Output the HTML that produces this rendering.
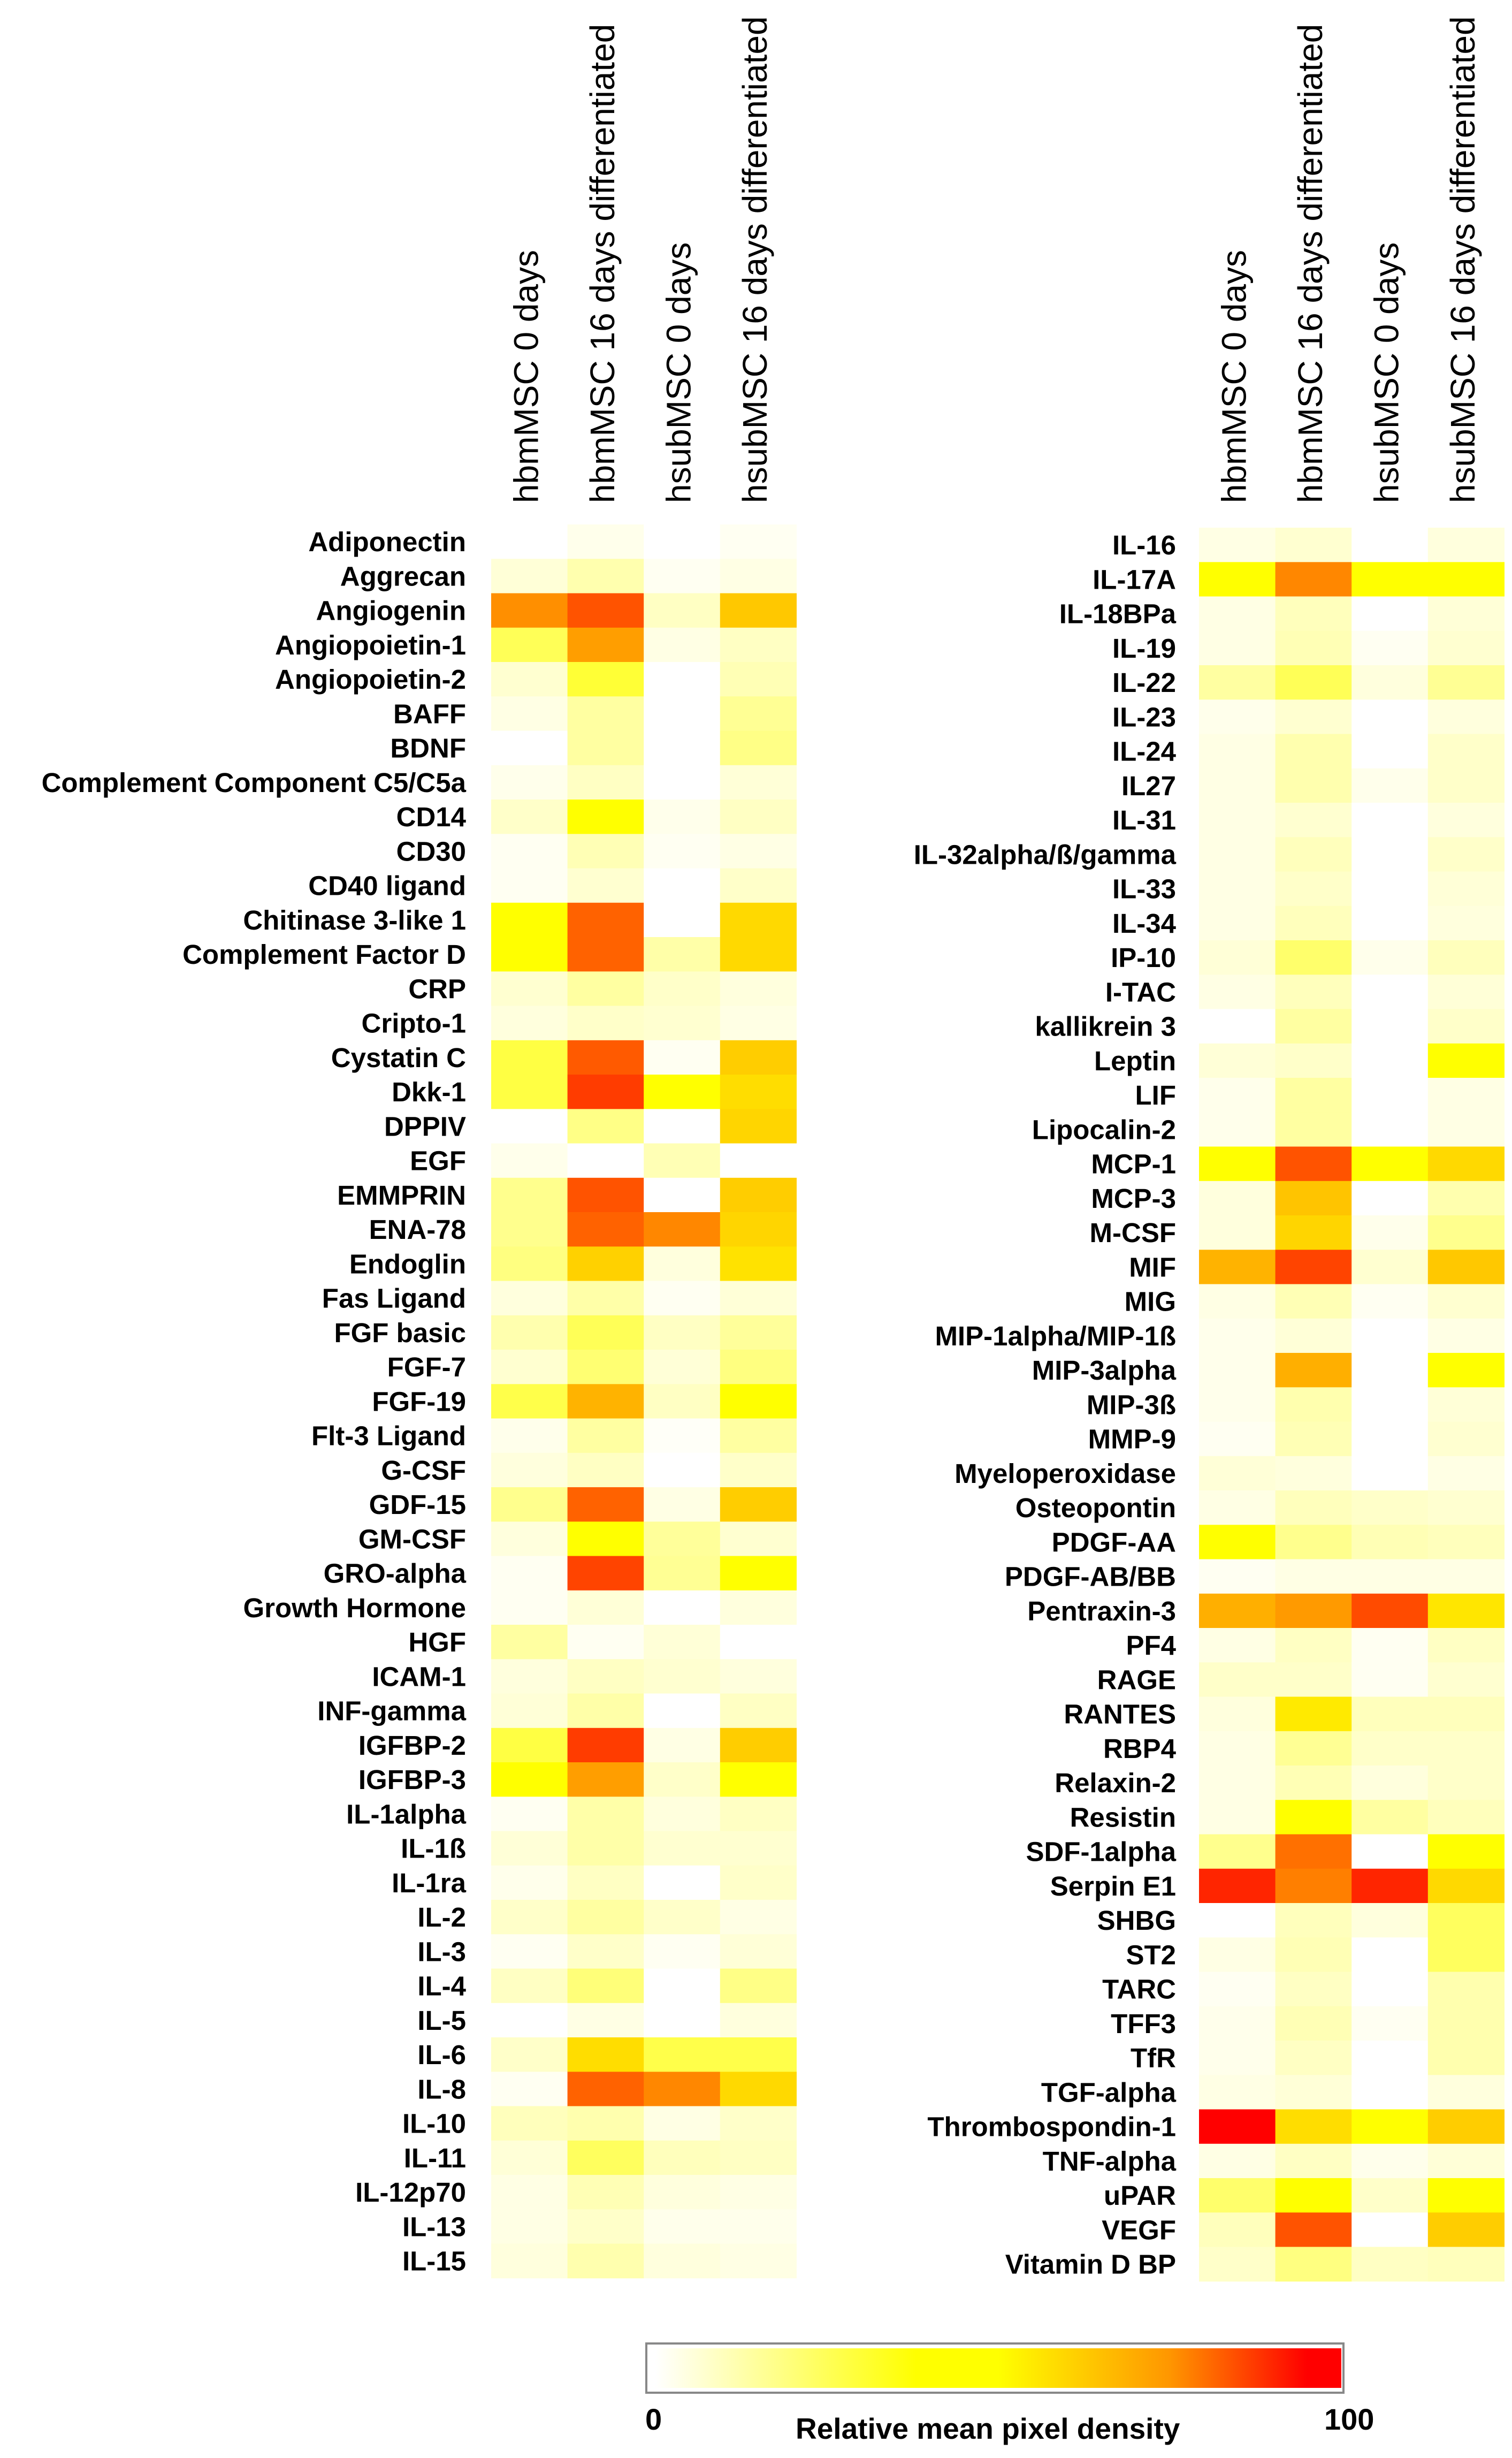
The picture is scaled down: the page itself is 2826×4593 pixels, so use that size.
<!DOCTYPE html>
<html><head><meta charset="utf-8"><title>Cytokine heatmap</title>
<style>
html,body{margin:0;padding:0;background:#fff;}
svg{display:block;}
text{font-family:"Liberation Sans",Arial,sans-serif;fill:#000;}
.rl{font-weight:bold;font-size:51px;}
.ch{font-size:64px;}
</style></head>
<body>
<svg id="chart" width="2826" height="4593" viewBox="0 0 2826 4593" xmlns="http://www.w3.org/2000/svg">
<defs>
<linearGradient id="cbar" x1="0" x2="1" y1="0" y2="0">
<stop offset="0" stop-color="#ffffff"/>
<stop offset="0.38" stop-color="#ffff00"/>
<stop offset="0.5" stop-color="#ffff00"/>
<stop offset="0.75" stop-color="#ff9600"/>
<stop offset="0.95" stop-color="#ff0000"/>
<stop offset="1" stop-color="#ff0000"/>
</linearGradient>
</defs>
<g id="left-panel"></g>
<g id="right-panel"></g>
<g>
<rect x="1208" y="4379" width="1303" height="92" fill="#fff" stroke="#888" stroke-width="4"/>
<rect x="1225" y="4388" width="1282" height="74" fill="url(#cbar)"/>
<text x="1206" y="4540" font-size="56" font-weight="bold">0</text>
<text x="2475" y="4540" font-size="56" font-weight="bold">100</text>
<text x="1487" y="4557" font-size="55" font-weight="bold">Relative mean pixel density</text>
</g>
</svg>
<script>
const columns = ["hbmMSC 0 days","hbmMSC 16 days differentiated","hsubMSC 0 days","hsubMSC 16 days differentiated"];
const leftLabels = ["Adiponectin","Aggrecan","Angiogenin","Angiopoietin-1","Angiopoietin-2","BAFF","BDNF","Complement  Component C5/C5a","CD14","CD30","CD40 ligand","Chitinase 3-like 1","Complement Factor D","CRP","Cripto-1","Cystatin C","Dkk-1","DPPIV","EGF","EMMPRIN","ENA-78","Endoglin","Fas Ligand","FGF basic","FGF-7","FGF-19","Flt-3 Ligand","G-CSF","GDF-15","GM-CSF","GRO-alpha","Growth Hormone","HGF","ICAM-1","INF-gamma","IGFBP-2","IGFBP-3","IL-1alpha","IL-1ß","IL-1ra","IL-2","IL-3","IL-4","IL-5","IL-6","IL-8","IL-10","IL-11","IL-12p70","IL-13","IL-15"];
const leftC0 = [0,6,76,25,7,4,0,3,8,2,2,40,40,7,5,28,28,0,3,17,17,19,5,12,7,27,3,5,17,5,2,2,14,5,6,28,40,2,6,3,8,2,9,0,8,2,10,6,4,4,5];
const leftC1 = [3,12,84,73,30,14,14,9,38,11,7,82,82,14,8,83,87,18,0,84,82,61,13,25,21,68,14,9,82,40,86,6,2,9,13,87,73,13,13,9,14,8,20,4,58,82,12,24,11,8,12];
const leftC2 = [0,2,9,4,0,0,0,0,3,2,0,0,13,8,7,2,40,0,11,0,77,5,2,9,6,9,1,0,4,15,16,0,6,7,0,4,8,5,7,0,8,2,0,0,27,77,4,10,5,3,5];
const leftC3 = [2,4,63,9,11,16,18,6,9,4,8,59,59,5,4,62,58,60,0,62,60,57,6,15,19,40,14,8,62,7,40,5,0,5,9,62,40,9,7,8,4,6,18,5,27,59,8,9,4,3,4];
const rightLabels = ["IL-16","IL-17A","IL-18BPa","IL-19","IL-22","IL-23","IL-24","IL27","IL-31","IL-32alpha/ß/gamma","IL-33","IL-34","IP-10","I-TAC","kallikrein  3","Leptin","LIF","Lipocalin-2","MCP-1","MCP-3","M-CSF","MIF","MIG","MIP-1alpha/MIP-1ß","MIP-3alpha","MIP-3ß","MMP-9","Myeloperoxidase","Osteopontin","PDGF-AA","PDGF-AB/BB","Pentraxin-3","PF4","RAGE","RANTES","RBP4","Relaxin-2","Resistin","SDF-1alpha","Serpin E1","SHBG","ST2","TARC","TFF3","TfR","TGF-alpha","Thrombospondin-1","TNF-alpha","uPAR","VEGF","Vitamin  D BP"];
const rightC0 = [4,40,4,4,14,3,4,4,4,4,4,4,6,4,0,6,3,3,40,5,5,68,4,3,3,3,2,6,4,40,2,69,4,8,5,4,4,4,17,90,0,4,2,3,3,4,96,4,22,10,8];
const rightC1 = [7,77,10,11,25,7,12,12,7,10,8,10,22,10,14,8,14,14,84,64,60,86,11,6,69,12,11,5,10,17,4,74,9,8,55,16,11,41,80,78,10,11,9,11,9,6,58,9,42,84,19];
const rightC2 = [0,40,0,2,5,0,0,3,0,0,0,0,3,0,0,0,0,0,40,0,3,7,2,0,0,0,0,0,8,11,4,85,2,2,10,8,5,14,0,90,5,0,0,2,0,0,44,3,8,0,9];
const rightC3 = [5,40,6,7,16,5,8,8,5,8,6,5,10,6,8,48,4,4,59,12,17,63,7,4,41,6,7,4,7,10,4,56,9,7,10,8,8,10,45,59,24,24,12,12,12,5,62,6,42,62,10];

const NS = "http://www.w3.org/2000/svg";
const cellW = 142.6, rowH = 64.25;
function colorOf(v){
  const t = Math.max(0, Math.min(100, v))/100;
  const stops = [[0,255,255,255],[0.38,255,255,0],[0.5,255,255,0],[0.75,255,150,0],[0.95,255,0,0],[1,255,0,0]];
  for (let i=1;i<stops.length;i++){
    if (t <= stops[i][0]){
      const a = stops[i-1], b = stops[i];
      const f = (t - a[0])/(b[0]-a[0] || 1);
      const r = Math.round(a[1]+(b[1]-a[1])*f), g = Math.round(a[2]+(b[2]-a[2])*f), bl = Math.round(a[3]+(b[3]-a[3])*f);
      return "rgb("+r+","+g+","+bl+")";
    }
  }
  return "rgb(255,0,0)";
}
function xScale(x0, col){ return x0 + col*cellW; }
function yScale(y0, row){ return y0 + row*rowH; }

function drawPanel(gid, x0, y0, labelRight, labels, series, prefix){
  const g = document.getElementById(gid);
  series.forEach((vals, c) => {
    vals.forEach((v, r) => {
      const rect = document.createElementNS(NS, "rect");
      rect.setAttribute("x", xScale(x0, c).toFixed(1));
      rect.setAttribute("y", yScale(y0, r).toFixed(1));
      rect.setAttribute("width", (cellW+0.6).toFixed(1));
      rect.setAttribute("height", (rowH+0.6).toFixed(1));
      rect.setAttribute("fill", colorOf(v));
      
      
      g.appendChild(rect);
    });
  });
  labels.forEach((lab, r) => {
    const t = document.createElementNS(NS, "text");
    t.setAttribute("x", labelRight);
    t.setAttribute("y", (yScale(y0, r) + rowH/2 + 18).toFixed(1));
    t.setAttribute("text-anchor", "end");
    t.setAttribute("class", "rl");
    t.setAttribute("xml:space", "preserve");
    t.textContent = lab;
    
    
    g.appendChild(t);
  });
  columns.forEach((name, c) => {
    const cx = xScale(x0, c) + cellW/2 + 16;
    const t = document.createElementNS(NS, "text");
    t.setAttribute("transform", "translate(" + cx.toFixed(1) + ",940) rotate(-90)");
    t.setAttribute("class", "ch");
    t.textContent = name;
    
    
    g.appendChild(t);
  });
}
drawPanel("left-panel", 918, 980, 871, leftLabels, [leftC0, leftC1, leftC2, leftC3], "left");
drawPanel("right-panel", 2241, 986, 2198, rightLabels, [rightC0, rightC1, rightC2, rightC3], "right");
</script>
</body></html>
